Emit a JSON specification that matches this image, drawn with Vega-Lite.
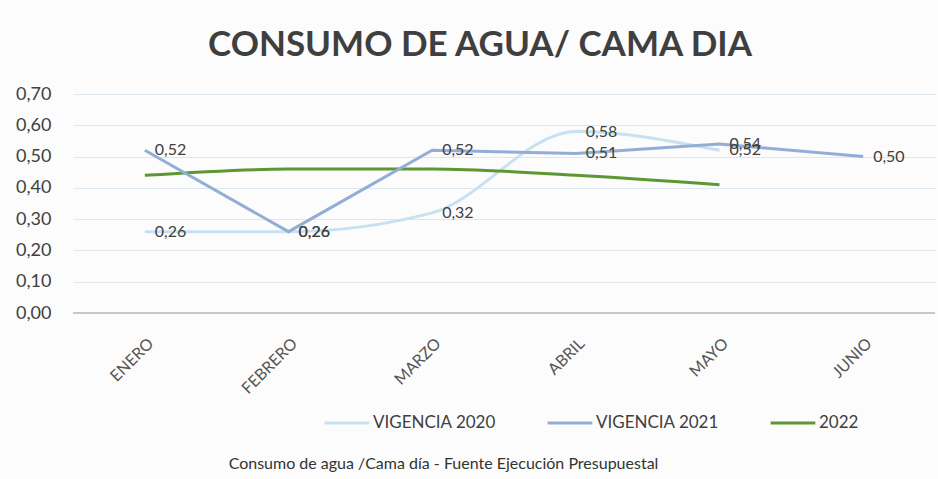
{
  "$schema": "https://vega.github.io/schema/vega-lite/v6.json",
  "autosize": "none",
  "width": 862,
  "height": 219,
  "padding": {"left": 73, "top": 94, "right": 3, "bottom": 166},
  "background": "#fcfcfc",
  "config": {
    "font": "Lato",
    "view": {"stroke": null},
    "locale": {"number": {"decimal": ",", "thousands": ".", "grouping": [3], "currency": ["$", ""]}}
  },
  "title": {
    "text": "CONSUMO DE AGUA/ CAMA DIA",
    "fontSize": 35,
    "fontWeight": "bold",
    "color": "#3f3f3f",
    "offset": 22,
    "dx": -24,
    "font": "Lato"
  },
  "data": {
    "values": [
      {"mes": "ENERO", "serie": "VIGENCIA 2020", "valor": 0.26},
      {"mes": "FEBRERO", "serie": "VIGENCIA 2020", "valor": 0.26},
      {"mes": "MARZO", "serie": "VIGENCIA 2020", "valor": 0.32},
      {"mes": "ABRIL", "serie": "VIGENCIA 2020", "valor": 0.58},
      {"mes": "MAYO", "serie": "VIGENCIA 2020", "valor": 0.52},
      {"mes": "ENERO", "serie": "VIGENCIA 2021", "valor": 0.52},
      {"mes": "FEBRERO", "serie": "VIGENCIA 2021", "valor": 0.26},
      {"mes": "MARZO", "serie": "VIGENCIA 2021", "valor": 0.52},
      {"mes": "ABRIL", "serie": "VIGENCIA 2021", "valor": 0.51},
      {"mes": "MAYO", "serie": "VIGENCIA 2021", "valor": 0.54},
      {"mes": "JUNIO", "serie": "VIGENCIA 2021", "valor": 0.50},
      {"mes": "ENERO", "serie": "2022", "valor": 0.44},
      {"mes": "FEBRERO", "serie": "2022", "valor": 0.46},
      {"mes": "MARZO", "serie": "2022", "valor": 0.46},
      {"mes": "ABRIL", "serie": "2022", "valor": 0.44},
      {"mes": "MAYO", "serie": "2022", "valor": 0.41}
    ]
  },
  "encoding": {
    "x": {
      "field": "mes",
      "type": "ordinal",
      "sort": ["ENERO", "FEBRERO", "MARZO", "ABRIL", "MAYO", "JUNIO"],
      "scale": {"type": "point", "padding": 0.5},
      "axis": {
        "title": "Consumo de agua /Cama día - Fuente Ejecución Presupuestal",
        "titleFontSize": 16,
        "titleFontWeight": "normal",
        "titleColor": "#333333",
        "titleX": 370,
        "titleY": 142,
        "titleAnchor": null,
        "titleAlign": "center",
        "titleBaseline": "top",
        "labelAngle": -45,
        "labelFontSize": 16,
        "labelColor": "#555555",
        "labelPadding": 22,
        "domain": false,
        "ticks": false,
        "grid": false
      }
    },
    "y": {
      "field": "valor",
      "type": "quantitative",
      "scale": {"domain": [0, 0.7]},
      "axis": {
        "title": null,
        "values": [0, 0.1, 0.2, 0.3, 0.4, 0.5, 0.6, 0.7],
        "format": ".2f",
        "labelFontSize": 18,
        "labelColor": "#404040",
        "labelPadding": 22,
        "domain": false,
        "ticks": false,
        "gridColor": "#dde7ef",
        "gridWidth": 1
      }
    },
    "color": {
      "field": "serie",
      "type": "nominal",
      "scale": {
        "domain": ["VIGENCIA 2020", "VIGENCIA 2021", "2022"],
        "range": ["#c8e1f2", "#93aed6", "#5e9634"]
      },
      "legend": {
        "title": null,
        "orient": "none",
        "direction": "horizontal",
        "legendX": 250,
        "legendY": 305,
        "symbolType": "stroke",
        "symbolSize": 2000,
        "symbolStrokeWidth": 3,
        "labelFontSize": 17,
        "labelColor": "#404040",
        "labelOffset": 2,
        "columnPadding": 45
      }
    }
  },
  "layer": [
    {
      "mark": {"type": "rule", "color": "#c8c8c8", "strokeWidth": 1},
      "encoding": {"y": {"datum": 0}, "x": null, "color": null}
    },
    {
      "transform": [{"filter": "datum.serie != 'VIGENCIA 2021'"}],
      "mark": {"type": "line", "interpolate": "monotone", "strokeWidth": 3}
    },
    {
      "transform": [{"filter": "datum.serie == 'VIGENCIA 2021'"}],
      "mark": {"type": "line", "interpolate": "linear", "strokeWidth": 3}
    },
    {
      "transform": [{"filter": "datum.serie != '2022'"}],
      "mark": {"type": "text", "align": "left", "baseline": "middle", "dx": 10, "fontSize": 16, "color": "#404040"},
      "encoding": {
        "text": {"field": "valor", "type": "quantitative", "format": ".2f"},
        "color": null
      }
    }
  ]
}
